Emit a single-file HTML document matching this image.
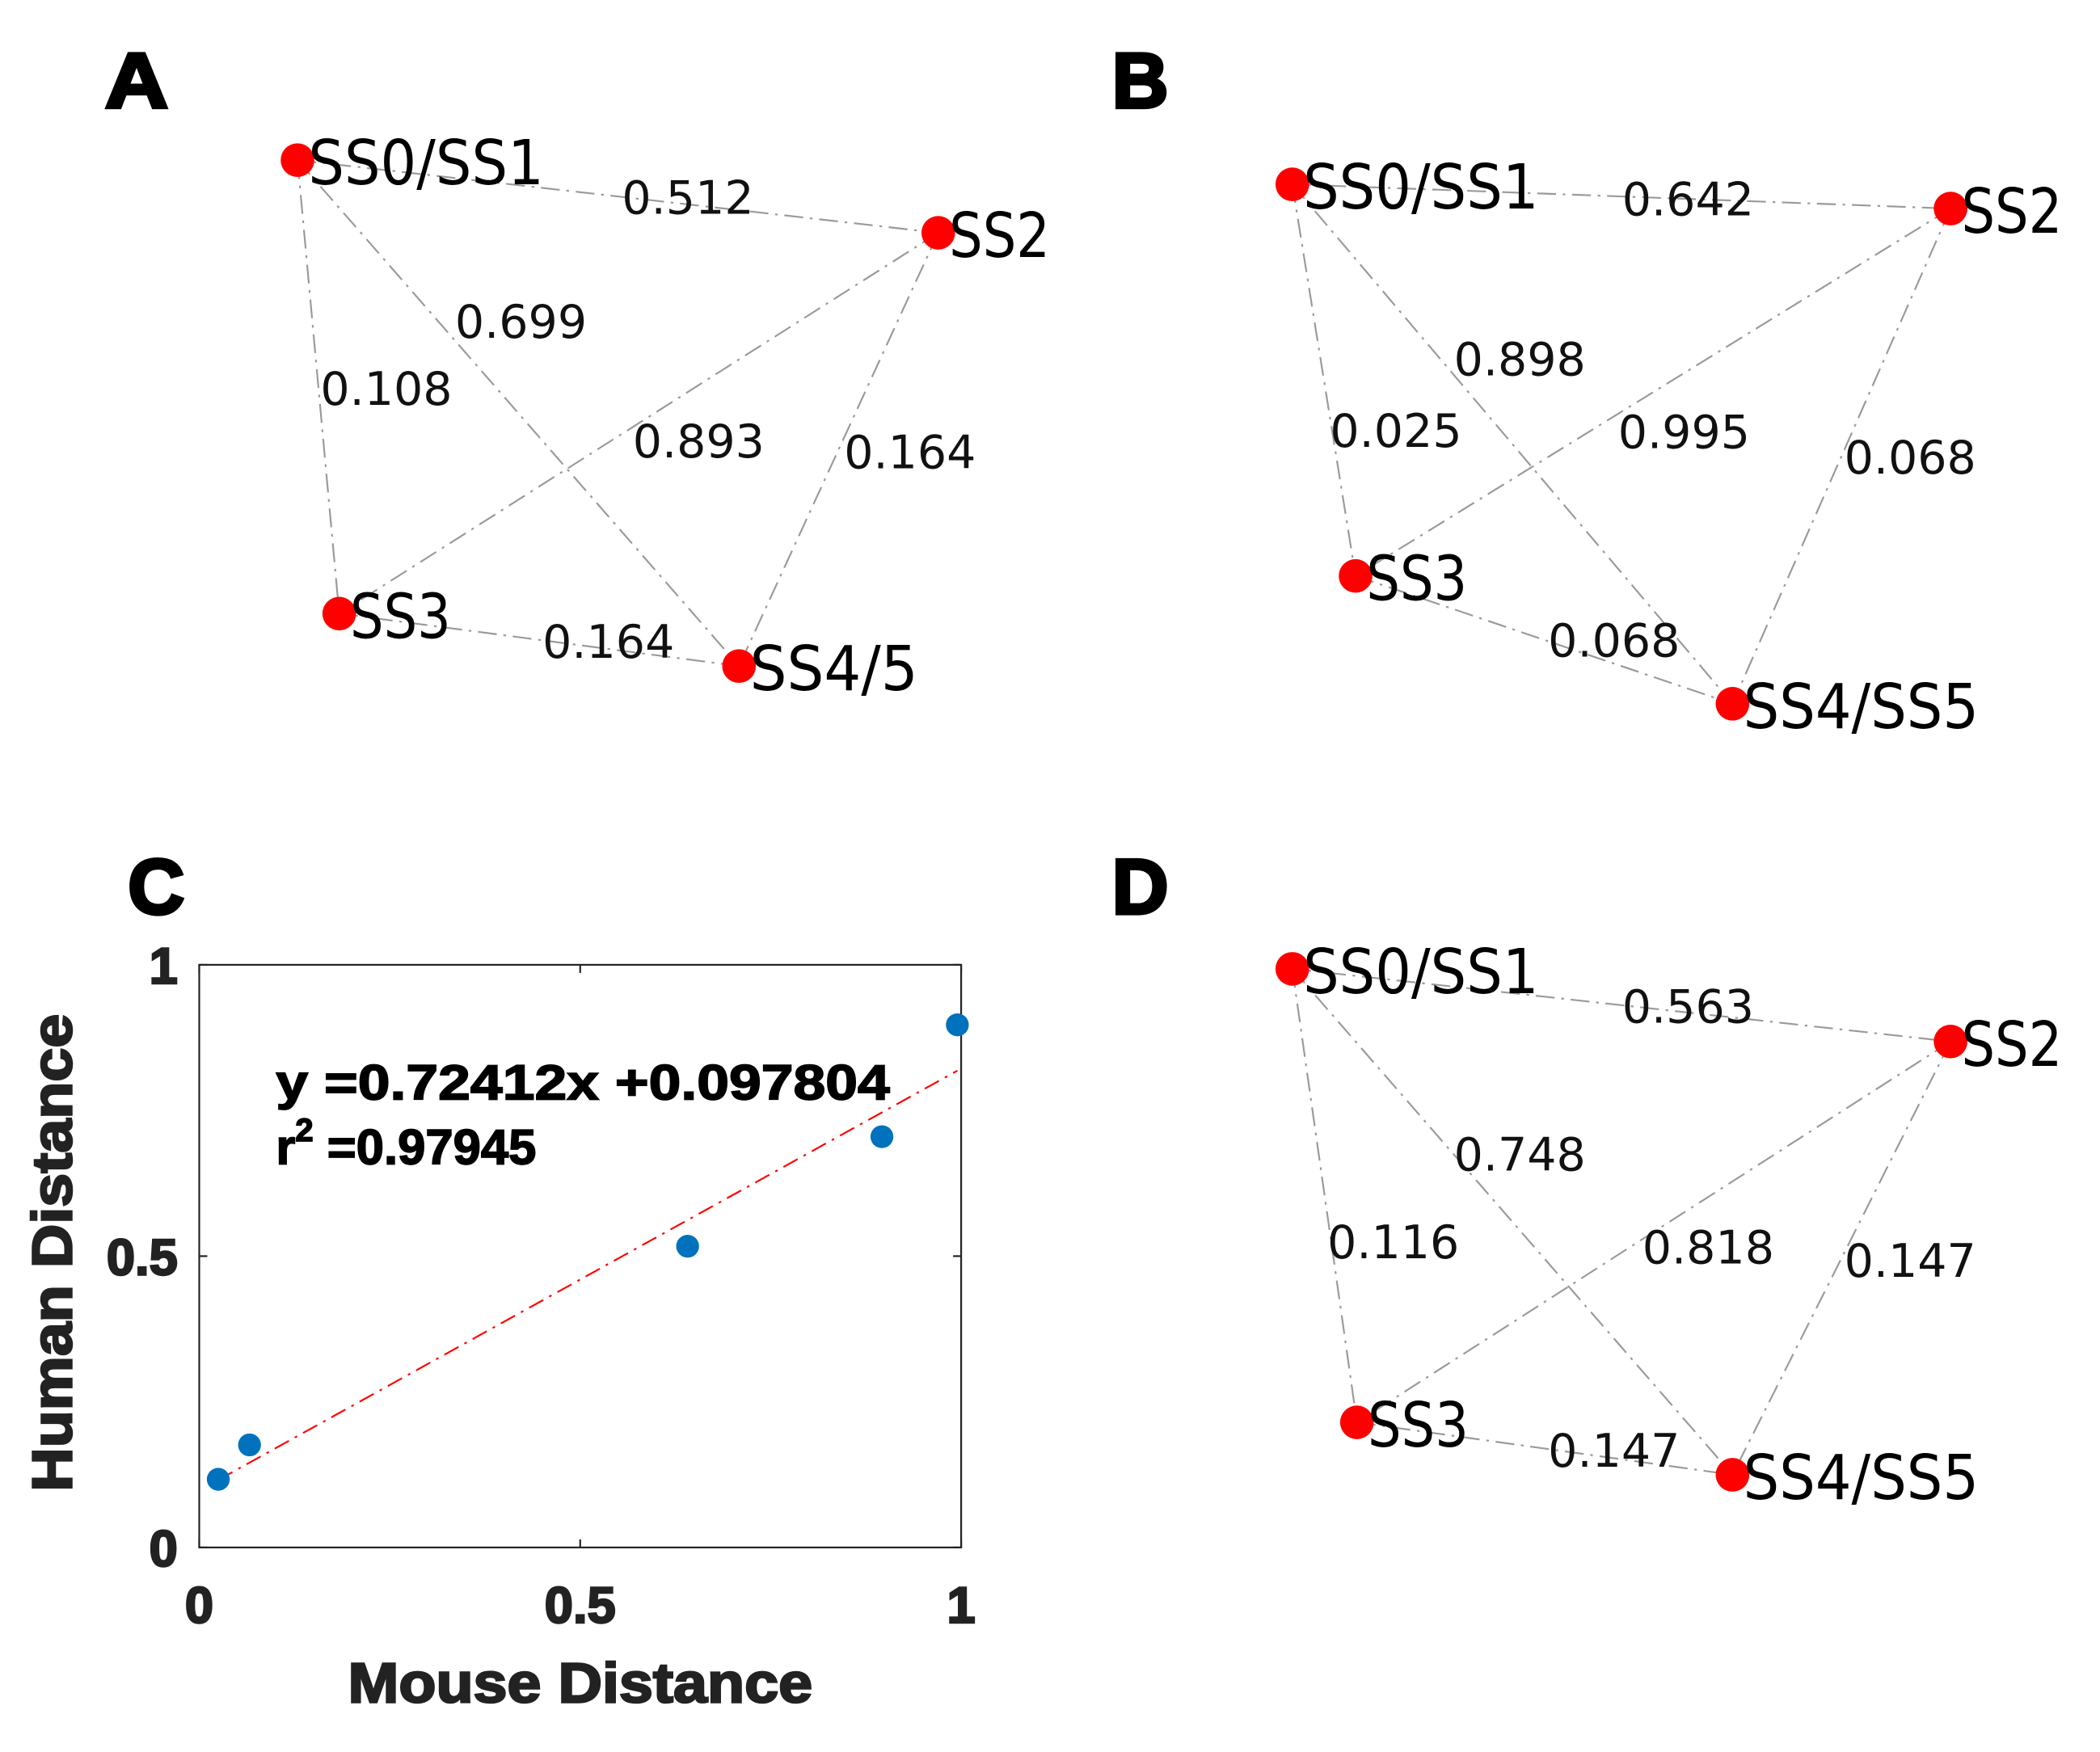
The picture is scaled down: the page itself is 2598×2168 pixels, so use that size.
<!DOCTYPE html>
<html><head><meta charset="utf-8"><style>
html,body{margin:0;padding:0;background:#fff}
svg{display:block}
.nl{font-family:"DejaVu Sans","Liberation Sans",sans-serif;font-size:46px;fill:#000}
.el{font-family:"DejaVu Sans","Liberation Sans",sans-serif;font-size:34px;fill:#111}
.pl{font-family:"Liberation Sans",sans-serif;font-weight:bold;font-size:58px;fill:#000;stroke:#000;stroke-width:2.5}
.tk{font-family:"Liberation Sans",sans-serif;font-weight:bold;font-size:38px;fill:#222;stroke:#222;stroke-width:1.5}
.at{font-family:"Liberation Sans",sans-serif;font-weight:bold;font-size:42px;fill:#222;stroke:#222;stroke-width:1.5}
.eq{font-family:"Liberation Sans",sans-serif;font-weight:bold;font-size:37px;fill:#000;stroke:#000;stroke-width:1}
</style></head><body>
<svg id="fig" width="2598" height="2168" viewBox="0 0 1560 1302" preserveAspectRatio="none" xmlns="http://www.w3.org/2000/svg">
<text class="pl" x="78" y="80" textLength="47" lengthAdjust="spacingAndGlyphs">A</text>
<text class="pl" x="826" y="80" textLength="42" lengthAdjust="spacingAndGlyphs">B</text>
<text class="pl" x="95" y="679" textLength="42" lengthAdjust="spacingAndGlyphs">C</text>
<text class="pl" x="826" y="679" textLength="42" lengthAdjust="spacingAndGlyphs">D</text>
<g id="graphs"></g>
<g id="chartC">
<rect x="148" y="717" width="566" height="433" fill="none" stroke="#222" stroke-width="1.3"/>
<g id="ticks"></g>
<g id="marks"></g>
<text class="eq" x="205" y="817" textLength="456" lengthAdjust="spacingAndGlyphs">y =0.72412x +0.097804</text>
<text class="eq" x="205" y="865">r<tspan dy="-17" font-size="24">2</tspan><tspan dy="17" font-size="37"> =0.97945</tspan></text>
<text class="at" x="431" y="1265" text-anchor="middle" textLength="345" lengthAdjust="spacingAndGlyphs">Mouse Distance</text>
<text class="at" transform="translate(53,931) rotate(-90)" text-anchor="middle" textLength="355" lengthAdjust="spacingAndGlyphs">Human Distance</text>
</g>
</svg>
<script>
// Panel C data
const mouseDist = [0.025, 0.066, 0.641, 0.896, 0.995];
const humanDist = [0.117, 0.176, 0.517, 0.705, 0.897];
const fitSlope = 0.72412;
const fitIntercept = 0.097804;
const xTicks = [0, 0.5, 1];
const yTicks = [0, 0.5, 1];
const xTickLabels = ["0", "0.5", "1"];
const yTickLabels = ["0", "0.5", "1"];

// Network panels data
const nodeNames = [["SS0/SS1","SS2","SS3","SS4/5"],["SS0/SS1","SS2","SS3","SS4/SS5"],["SS0/SS1","SS2","SS3","SS4/SS5"]];
const nodeX = [[221,697,252,549],[960,1449,1007,1287],[960,1449,1008,1287]];
const nodeY = [[119,173,456,495],[137,155,428,523],[720,774,1057,1096]];
const edgePairs = [[0,1],[0,3],[0,2],[1,2],[1,3],[2,3]];
const edgeValues = [["0.512","0.699","0.108","0.893","0.164","0.164"],["0.642","0.898","0.025","0.995","0.068","0.068"],["0.563","0.748","0.116","0.818","0.147","0.147"]];
const edgeLabelX = [[462,338,238,470,627,403],[1205,1080,988,1202,1370,1150],[1205,1080,986,1220,1370,1150]];
const edgeLabelY = [[147,239,289,328,336,477],[148,267,320,321,340,476],[748,858,923,927,937,1078]];

const NS="http://www.w3.org/2000/svg";
function mk(tag, attrs, parent){const e=document.createElementNS(NS,tag);for(const k in attrs)e.setAttribute(k,attrs[k]);parent.appendChild(e);return e;}

const graphs=document.getElementById('graphs');
for(let p=0;p<3;p++){
  const g=mk('g',{},graphs);
  
  
  edgePairs.forEach((pr,i)=>{
    const l=mk('line',{x1:nodeX[p][pr[0]],y1:nodeY[p][pr[0]],x2:nodeX[p][pr[1]],y2:nodeY[p][pr[1]],stroke:'#9a9a9a','stroke-width':1.3,'stroke-dasharray':'14 5 2 5'},g);
    
    
  });
  edgeValues[p].forEach((v,i)=>{
    const t=mk('text',{class:'el',x:edgeLabelX[p][i],y:edgeLabelY[p][i]+12,textLength:98,lengthAdjust:'spacingAndGlyphs'},g);
    t.textContent=v;
    
    
  });
  nodeNames[p].forEach((n,i)=>{
    const c=mk('circle',{cx:nodeX[p][i],cy:nodeY[p][i],r:12.5,fill:'#f00'},g);
    
    
    const t=mk('text',{class:'nl',x:nodeX[p][i]+8,y:nodeY[p][i]+18,textLength:n.length*25,lengthAdjust:'spacingAndGlyphs'},g);
    t.textContent=n;
    
    
  });
}

// Axis functions
const X0=148,X1=714,Y0=1150,Y1=717;
function sx(v){return X0+(X1-X0)*v;}
function sy(v){return Y0-(Y0-Y1)*v;}
const ticks=document.getElementById('ticks');
xTicks.forEach((v,i)=>{
  mk('line',{x1:sx(v),x2:sx(v),y1:Y0,y2:Y0-6,stroke:'#222','stroke-width':1.3},ticks);
  mk('line',{x1:sx(v),x2:sx(v),y1:Y1,y2:Y1+6,stroke:'#222','stroke-width':1.3},ticks);
  const t=mk('text',{class:'tk',x:sx(v),y:1206,'text-anchor':'middle'},ticks);
  t.textContent=xTickLabels[i];
  
  
});
yTicks.forEach((v,i)=>{
  mk('line',{x1:X0,x2:X0+6,y1:sy(v),y2:sy(v),stroke:'#222','stroke-width':1.3},ticks);
  mk('line',{x1:X1,x2:X1-6,y1:sy(v),y2:sy(v),stroke:'#222','stroke-width':1.3},ticks);
  const t=mk('text',{class:'tk',x:132,y:sy(v)+14,'text-anchor':'end'},ticks);
  t.textContent=yTickLabels[i];
  
  
});
const marks=document.getElementById('marks');
const xa=Math.min(...mouseDist), xb=Math.max(...mouseDist);
const fit=mk('line',{x1:sx(xa),y1:sy(fitSlope*xa+fitIntercept),x2:sx(xb),y2:sy(fitSlope*xb+fitIntercept),stroke:'#f00','stroke-width':1.3,'stroke-dasharray':'12 5 2 5'},marks);


mouseDist.forEach((v,i)=>{
  const c=mk('circle',{cx:sx(v),cy:sy(humanDist[i]),r:8.5,fill:'#0072bd'},marks);
  
  
});
</script>
</body></html>
